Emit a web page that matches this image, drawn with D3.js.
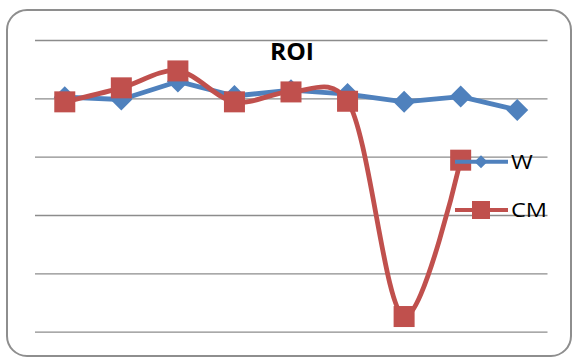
<!DOCTYPE html>
<html>
<head>
<meta charset="utf-8">
<script src="https://cdn.jsdelivr.net/npm/d3@7"></script>
<style>
  html, body { margin: 0; padding: 0; background: #fff; }
  svg { display: block; }
</style>
</head>
<body>
<svg id="chart" width="576" height="358"></svg>
<script>
// Categories along the x axis (nine periods)
const categories = ["1", "2", "3", "4", "5", "6", "7", "8", "9"];
// ROI series
const seriesW  = [0.01, -0.01, 0.145, 0.02, 0.07, 0.037, -0.03, 0.015, -0.10];
const seriesCM = [-0.03, 0.09, 0.235, -0.03, 0.055, -0.025, -1.87, -0.53];
// Value gridlines
const yTicks = [-2, -1.5, -1, -0.5, 0, 0.5];
const legendLabels = ["W", "CM"];

const BLUE = "#4F81BD";
const RED = "#C0504D";
const FONT = "'Open Sans', 'Liberation Sans', sans-serif";

const svg = d3.select("#chart");

// Outer rounded frame
svg.append("rect")
  .attr("x", 7).attr("y", 10)
  .attr("width", 564).attr("height", 346)
  .attr("rx", 20).attr("ry", 20)
  .attr("fill", "#fff")
  .attr("stroke", "#8e8e8e")
  .attr("stroke-width", 2);

const plotLeft = 35, plotRight = 547.5;

const x = d3.scalePoint()
  .domain(categories)
  .range([36.5, 545.5])
  .padding(0.5);

const y = d3.scaleLinear()
  .domain([-2, 0.5])
  .range([331.7, 40]);

// Horizontal gridlines via a left axis with full-width ticks
const yAxis = d3.axisLeft(y)
  .tickValues(yTicks)
  .tickSize(-(plotRight - plotLeft))
  .tickFormat("");

const gAxis = svg.append("g")
  .attr("transform", `translate(${plotLeft},0)`)
  .call(yAxis);
gAxis.select(".domain").remove();
gAxis.selectAll(".tick line")
  .attr("stroke", "#8c8c8c")
  .attr("stroke-width", 1.3);

// Title
svg.append("text")
  .attr("transform", "translate(292,60) scale(1.05,1)")
  .attr("text-anchor", "middle")
  .attr("font-family", FONT)
  .attr("font-weight", "bold")
  .attr("font-size", 23.5)
  .attr("fill", "#000")
  .text("ROI");

const diamond = (cx, cy, r) =>
  `M${cx},${cy - r}L${cx + r},${cy}L${cx},${cy + r}L${cx - r},${cy}Z`;

// W series: straight segments with diamond markers
const lineW = d3.line()
  .x((d, i) => x(categories[i]))
  .y(d => y(d));

svg.append("path")
  .datum(seriesW)
  .attr("d", lineW)
  .attr("fill", "none")
  .attr("stroke", BLUE)
  .attr("stroke-width", 4.8)
  .attr("stroke-linejoin", "round");

svg.append("g").selectAll("path")
  .data(seriesW)
  .join("path")
  .attr("d", (d, i) => diamond(x(categories[i]), y(d), 11))
  .attr("fill", BLUE);

// CM series: smoothed line with square markers
const lineCM = d3.line()
  .x((d, i) => x(categories[i]))
  .y(d => y(d))
  .curve(d3.curveCatmullRom.alpha(0.2));

svg.append("path")
  .datum(seriesCM)
  .attr("d", lineCM)
  .attr("fill", "none")
  .attr("stroke", RED)
  .attr("stroke-width", 4.8)
  .attr("stroke-linejoin", "round");

const sq = 21;
svg.append("g").selectAll("rect")
  .data(seriesCM)
  .join("rect")
  .attr("x", (d, i) => x(categories[i]) - sq / 2)
  .attr("y", d => y(d) - sq / 2)
  .attr("width", sq).attr("height", sq)
  .attr("fill", RED);

// Legend
const legend = svg.append("g");
const legendRows = [
  { label: legendLabels[0], color: BLUE, yPos: 161.7, marker: "diamond" },
  { label: legendLabels[1], color: RED, yPos: 210, marker: "square" }
];
legendRows.forEach(r => {
  legend.append("line")
    .attr("x1", 455).attr("x2", 508)
    .attr("y1", r.yPos).attr("y2", r.yPos)
    .attr("stroke", r.color)
    .attr("stroke-width", 4);
  if (r.marker === "diamond") {
    legend.append("path")
      .attr("d", diamond(481, r.yPos, 6.5))
      .attr("fill", r.color);
  } else {
    legend.append("rect")
      .attr("x", 481 - 9).attr("y", r.yPos - 9)
      .attr("width", 18).attr("height", 18)
      .attr("fill", r.color);
  }
  legend.append("text")
    .attr("transform", `translate(511,${r.yPos + 7}) scale(1.18,1)`)
    .attr("font-family", FONT)
    .attr("font-size", 20)
    .attr("fill", "#000")
    .text(r.label);
});
</script>
</body>
</html>
